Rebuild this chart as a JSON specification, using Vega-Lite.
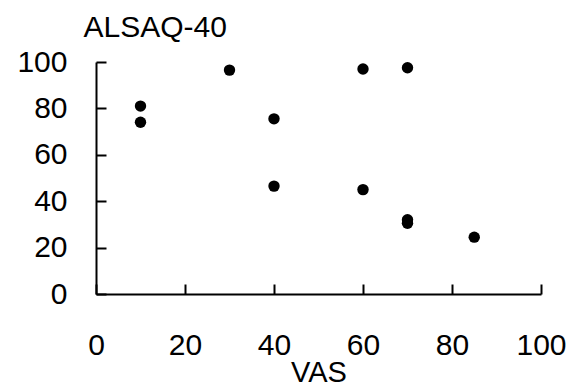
{
  "$schema": "https://vega.github.io/schema/vega-lite/v6.json",
  "width": 445,
  "height": 232,
  "autosize": "none",
  "padding": {"left": 96, "top": 62, "right": 34, "bottom": 92},
  "background": "white",
  "config": {"view": {"stroke": null}, "font": "Liberation Sans"},
  "data": {"values": [
    {"VAS": 10, "ALSAQ": 81},
    {"VAS": 10, "ALSAQ": 74},
    {"VAS": 30, "ALSAQ": 96.5},
    {"VAS": 40, "ALSAQ": 75.5},
    {"VAS": 40, "ALSAQ": 46.5},
    {"VAS": 60, "ALSAQ": 97},
    {"VAS": 70, "ALSAQ": 97.5},
    {"VAS": 60, "ALSAQ": 45},
    {"VAS": 70, "ALSAQ": 30.5},
    {"VAS": 70, "ALSAQ": 32},
    {"VAS": 85, "ALSAQ": 24.5}
  ]},
  "mark": {"type": "point", "filled": true, "color": "black", "size": 130, "opacity": 1},
  "encoding": {
    "x": {
      "field": "VAS", "type": "quantitative",
      "scale": {"domain": [0, 100], "nice": false},
      "axis": {
        "values": [0, 20, 40, 60, 80, 100], "grid": false,
        "tickSize": -10, "tickWidth": 2, "tickColor": "black",
        "domainColor": "black", "domainWidth": 2,
        "labelFontSize": 30, "labelColor": "black", "labelPadding": 46, "labelFlush": false,
        "title": "VAS", "titleFontSize": 29, "titleFontWeight": "normal", "titleColor": "black", "titlePadding": -2
      }
    },
    "y": {
      "field": "ALSAQ", "type": "quantitative",
      "scale": {"domain": [0, 100], "nice": false},
      "axis": {
        "values": [0, 20, 40, 60, 80, 100], "grid": false,
        "tickSize": -10, "tickWidth": 2, "tickColor": "black",
        "domainColor": "black", "domainWidth": 2,
        "labelFontSize": 30, "labelColor": "black", "labelPadding": 39, "labelFlush": false,
        "title": "ALSAQ-40", "titleFontSize": 30, "titleFontWeight": "normal", "titleColor": "black",
        "titleAngle": 0, "titleAlign": "left", "titleBaseline": "alphabetic", "titleX": -13, "titleY": -26
      }
    }
  }
}
